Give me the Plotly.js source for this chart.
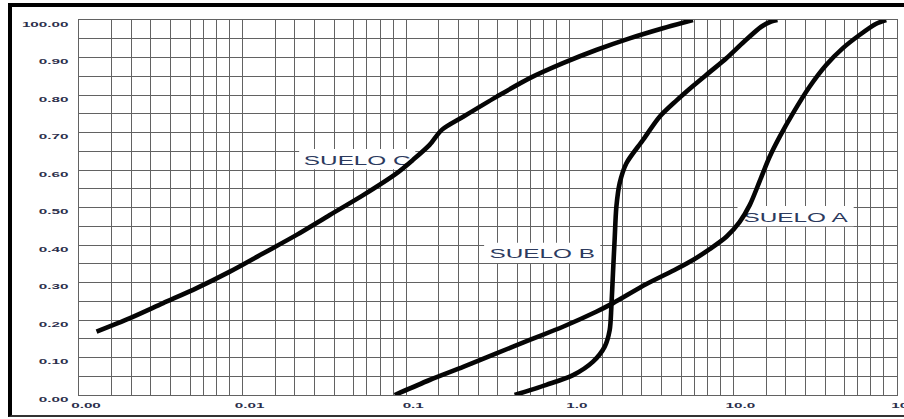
<!DOCTYPE html>
<html>
<head>
<meta charset="utf-8">
<script src="https://cdn.plot.ly/plotly-3.0.1.min.js"></script>
<style>
  html, body { margin: 0; padding: 0; background: #fff; overflow: hidden; }
  #chart { position: absolute; left: 0; top: 0; width: 904px; height: 419px; }
  #frame { position: absolute; left: 8px; top: 3px; width: 920px; height: 408px;
           border-left: 4px solid #000; border-top: 4px solid #000; border-bottom: 2px solid #333;
           pointer-events: none; z-index: 10; }
</style>
</head>
<body>
<div id="chart"></div>
<div id="frame"></div>
<script>
// ---- data ----
const xTickVals = [0.001, 0.01, 0.1, 1, 10, 100];
const xTickText = ['0.00', '0.01', '0.1', '1.0', '10.0', '100'];
const yTickVals = [0, 0.1, 0.2, 0.3, 0.4, 0.5, 0.6, 0.7, 0.8, 0.9, 1.0];
const yTickText = ['0.00', '0.10', '0.20', '0.30', '0.40', '0.50', '0.60', '0.70', '0.80', '0.90', '100.00'];

const sueloA_x = [0.0851, 0.139, 0.223, 0.356, 0.569, 0.908, 1.45, 1.84, 2.94, 4.48, 5.66, 7.16, 9.06, 10.9, 12.6, 14.5, 16.6, 19.2, 23.1, 29.2, 36.9, 46.7, 59.0, 74.6, 85.9];
const sueloA_y = [0.0, 0.04, 0.075, 0.111, 0.147, 0.182, 0.222, 0.245, 0.296, 0.336, 0.36, 0.389, 0.422, 0.461, 0.507, 0.571, 0.634, 0.689, 0.751, 0.822, 0.88, 0.925, 0.96, 0.99, 1.0];

const sueloB_x = [0.460, 0.719, 1.047, 1.387, 1.635, 1.753, 1.795, 1.836, 1.879, 1.926, 2.018, 2.218, 2.801, 3.54, 4.48, 5.66, 7.16, 9.06, 11.6, 14.8, 17.0, 18.6];
const sueloB_y = [0.0, 0.027, 0.053, 0.089, 0.129, 0.173, 0.235, 0.325, 0.413, 0.502, 0.565, 0.618, 0.68, 0.742, 0.785, 0.824, 0.861, 0.898, 0.942, 0.982, 0.996, 1.0];

const sueloC_x = [0.00128, 0.00205, 0.00327, 0.00524, 0.00836, 0.0134, 0.0214, 0.0341, 0.0546, 0.0873, 0.110, 0.139, 0.165, 0.223, 0.356, 0.569, 0.908, 1.45, 2.32, 3.71, 5.66];
const sueloC_y = [0.169, 0.205, 0.245, 0.285, 0.329, 0.378, 0.427, 0.48, 0.533, 0.591, 0.627, 0.667, 0.707, 0.742, 0.795, 0.845, 0.885, 0.92, 0.951, 0.978, 1.0];

const labelNames = ['SUELO C', 'SUELO B', 'SUELO A'];
const labelX = [0.0502, 0.678, 24.0];
const labelY = [0.629, 0.379, 0.477];

// ---- styling ----
const GRID_FRAC = [0.2, 0.32, 0.44, 0.56, 0.68, 0.76, 0.84, 0.92];
const xGridVals = [], xGridText = [];
xTickVals.forEach((v, i) => {
  xGridVals.push(v); xGridText.push(xTickText[i]);
  if (i < xTickVals.length - 1) GRID_FRAC.forEach(f => { xGridVals.push(v * Math.pow(10, f)); xGridText.push(''); });
});
const yGridVals = [], yGridText = [];
yTickVals.forEach((v, i) => {
  yGridVals.push(v); yGridText.push(yTickText[i]);
  if (i < yTickVals.length - 1) { yGridVals.push(v + 0.05); yGridText.push(''); }
});

const GRID = '#626262';
const TICKFONT = { family: 'Liberation Sans, Arial, sans-serif', size: 8, color: '#2c2f4c' };
const LABELFONT = { family: 'Liberation Sans, Arial, sans-serif', size: 13, color: '#2c3a5e' };

const lineStyle = { color: '#050505', width: 4.6, shape: 'spline', smoothing: 0.8 };
const traces = [
  { x: sueloA_x, y: sueloA_y, mode: 'lines', line: lineStyle, name: 'SUELO A' },
  { x: sueloB_x, y: sueloB_y, mode: 'lines', line: lineStyle, name: 'SUELO B' },
  { x: sueloC_x, y: sueloC_y, mode: 'lines', line: lineStyle, name: 'SUELO C' }
];

// white label boxes, drawn between grid and curves
const BOX_HALF_DEC = 0.355;   // half box width in decades (~58 px)
const BOX_HALF_Y = 0.027;     // half box height (~10 px)
const shapes = labelNames.map((t, i) => ({
  type: 'rect', xref: 'x', yref: 'y',
  x0: labelX[i] / Math.pow(10, BOX_HALF_DEC), x1: labelX[i] * Math.pow(10, BOX_HALF_DEC),
  y0: labelY[i] - BOX_HALF_Y, y1: labelY[i] + BOX_HALF_Y,
  fillcolor: '#ffffff', line: { width: 0 }, layer: 'between',
  label: { text: t, font: LABELFONT, textposition: 'middle center' }
}));

const layout = {
  width: 904, height: 419,
  margin: { l: 79, r: 6.5, t: 20, b: 24, pad: 0 },
  paper_bgcolor: '#ffffff', plot_bgcolor: '#ffffff',
  showlegend: false,
  xaxis: {
    type: 'log', range: [-3, 2], tickmode: 'array', tickvals: xGridVals, ticktext: xGridText,
    showgrid: true, gridcolor: GRID, gridwidth: 1, zeroline: false,
    showline: true, mirror: true, linecolor: GRID, linewidth: 1,
    ticks: '', tickfont: TICKFONT, ticklabelshift: 7, ticklabelstandoff: 2,
    ticklabeloverflow: 'allow'
  },
  yaxis: {
    range: [0, 1], tickmode: 'array', tickvals: yGridVals, ticktext: yGridText,
    showgrid: true, gridcolor: GRID, gridwidth: 1, zeroline: false,
    showline: true, mirror: true, linecolor: GRID, linewidth: 1,
    ticks: '', tickfont: TICKFONT, ticklabelshift: 4, ticklabelstandoff: 8,
    ticklabeloverflow: 'allow'
  },
  shapes: shapes
};

function stretch(el, factor) {
  const w = el.getComputedTextLength();
  if (!w) return;
  el.setAttribute('textLength', (w * factor).toFixed(2));
  el.setAttribute('lengthAdjust', 'spacingAndGlyphs');
}

Plotly.newPlot('chart', traces, layout, { staticPlot: true, displayModeBar: false }).then(gd => {
  gd.querySelectorAll('.xtick text, .ytick text').forEach(t => {
    t.style.fontWeight = '600';
    stretch(t, 1.9);
  });
  gd.querySelectorAll('text').forEach(t => {
    if (labelNames.indexOf(t.textContent.trim()) >= 0) stretch(t, 1.87);
  });
});
</script>
</body>
</html>
